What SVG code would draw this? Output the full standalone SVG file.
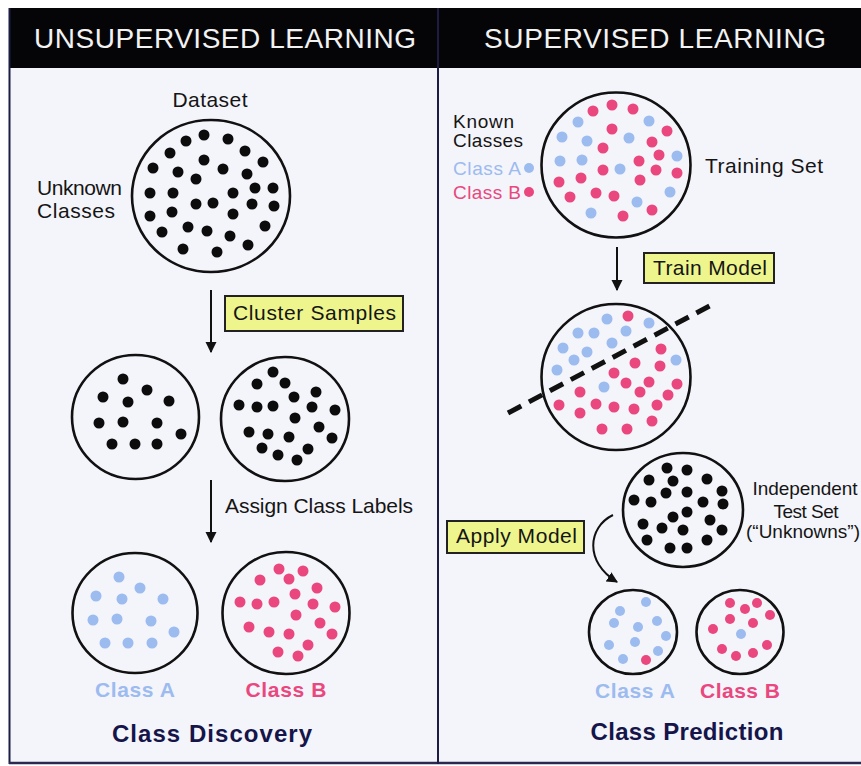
<svg xmlns="http://www.w3.org/2000/svg" width="861" height="766" viewBox="0 0 861 766">
  <style>
    .panel { fill: #f4f4fb; }
    .ring { fill: none; stroke: #111; stroke-width: 2.6; }
    .k { fill: #0c0c0c; }
    .a { fill: #9cbbef; }
    .b { fill: #e9477d; }
    .lbl { font-family: "Liberation Sans", Arial, sans-serif; font-size: 21px; fill: #151515; }
    .sm { font-size: 19px; }
    .head { font-family: "Liberation Sans Narrow", "Liberation Sans", Arial, sans-serif; font-size: 28px; fill: #f2f2f2; }
    .cls { font-family: "Liberation Sans", Arial, sans-serif; font-weight: bold; font-size: 21px; }
    .ta { fill: #9cbbef; }
    .tb { fill: #e9477d; }
    .title { font-family: "Liberation Sans", Arial, sans-serif; font-weight: bold; font-size: 24px; fill: #15154a; }
    .box { fill: #eef58c; stroke: #222; stroke-width: 2; }
    .wire { fill: none; stroke: #111; stroke-width: 2; }
  </style>
  <defs>
    <marker id="head" viewBox="0 0 10 10" refX="9" refY="5" markerWidth="5.5" markerHeight="6.5" orient="auto" markerUnits="strokeWidth">
      <path d="M0,0 L10,5 L0,10 Z" fill="#111"/>
    </marker>
  </defs>

  <!-- page and frame -->
  <rect x="0" y="0" width="861" height="766" fill="#ffffff"/>
  <rect class="panel" x="9" y="8" width="860" height="755"/>
  <rect x="9" y="8" width="860" height="60" fill="#050508"/>
  <line x1="9.5" y1="8" x2="9.5" y2="764" stroke="#1c1c44" stroke-width="2"/>
  <line x1="9" y1="763" x2="861" y2="763" stroke="#2a2a50" stroke-width="2.5"/>
  <line x1="438" y1="8" x2="438" y2="764" stroke="#1c1c44" stroke-width="2"/>

  <g id="header">
    <text class="head" x="34" y="48" textLength="382">UNSUPERVISED LEARNING</text>
    <text class="head" x="484" y="48" textLength="342">SUPERVISED LEARNING</text>
  </g>

  <!-- unsupervised side -->
  <g id="dataset">
    <text class="lbl" x="210" y="107" text-anchor="middle" textLength="75">Dataset</text>
    <text class="lbl" x="37" y="195" textLength="85">Unknown</text>
    <text class="lbl" x="37" y="218" textLength="78">Classes</text>
    <ellipse class="ring" cx="211" cy="196" rx="79" ry="76"/>
    <g class="k">
      <circle cx="204" cy="135" r="5.5"/><circle cx="186" cy="141" r="5.5"/><circle cx="228" cy="139" r="5.5"/>
      <circle cx="170" cy="153" r="5.5"/><circle cx="245" cy="151" r="5.5"/><circle cx="263" cy="162" r="5.5"/>
      <circle cx="204" cy="160" r="5.5"/><circle cx="223" cy="169" r="5.5"/><circle cx="153" cy="168" r="5.5"/>
      <circle cx="178" cy="172" r="5.5"/><circle cx="247" cy="174" r="5.5"/><circle cx="196" cy="179" r="5.5"/>
      <circle cx="255" cy="188" r="5.5"/><circle cx="273" cy="188" r="5.5"/><circle cx="150" cy="193" r="5.5"/>
      <circle cx="173" cy="193" r="5.5"/><circle cx="233" cy="193" r="5.5"/><circle cx="196" cy="204" r="5.5"/>
      <circle cx="213" cy="203" r="5.5"/><circle cx="252" cy="204" r="5.5"/><circle cx="274" cy="206" r="5.5"/>
      <circle cx="150" cy="216" r="5.5"/><circle cx="172" cy="212" r="5.5"/><circle cx="233" cy="214" r="5.5"/>
      <circle cx="188" cy="227" r="5.5"/><circle cx="207" cy="231" r="5.5"/><circle cx="162" cy="232" r="5.5"/>
      <circle cx="230" cy="236" r="5.5"/><circle cx="265" cy="226" r="5.5"/><circle cx="248" cy="245" r="5.5"/>
      <circle cx="183" cy="249" r="5.5"/><circle cx="217" cy="252" r="5.5"/>
    </g>
  </g>

  <g id="cluster-samples">
    <rect class="box" x="225" y="296" width="178" height="35"/>
    <text class="lbl" x="233" y="320" textLength="163">Cluster Samples</text>
  </g>

  <g id="cluster-1">
    <ellipse class="ring" cx="135.5" cy="417" rx="63.5" ry="62"/>
    <g class="k">
      <circle cx="123" cy="379" r="5.5"/><circle cx="103" cy="397" r="5.5"/><circle cx="147" cy="390" r="5.5"/>
      <circle cx="128" cy="402" r="5.5"/><circle cx="169" cy="401" r="5.5"/><circle cx="99" cy="423" r="5.5"/>
      <circle cx="123" cy="422" r="5.5"/><circle cx="157" cy="423" r="5.5"/><circle cx="181" cy="434" r="5.5"/>
      <circle cx="112" cy="444" r="5.5"/><circle cx="135" cy="444" r="5.5"/><circle cx="157" cy="444" r="5.5"/>
    </g>
  </g>

  <g id="cluster-2">
    <ellipse class="ring" cx="285" cy="419" rx="64" ry="62"/>
    <g class="k">
      <circle cx="273" cy="372" r="5.5"/><circle cx="257" cy="384" r="5.5"/><circle cx="285" cy="383" r="5.5"/>
      <circle cx="316" cy="392" r="5.5"/><circle cx="294" cy="397" r="5.5"/><circle cx="239" cy="405" r="5.5"/>
      <circle cx="257" cy="407" r="5.5"/><circle cx="273" cy="406" r="5.5"/><circle cx="312" cy="407" r="5.5"/>
      <circle cx="335" cy="410" r="5.5"/><circle cx="295" cy="418" r="5.5"/><circle cx="319" cy="427" r="5.5"/>
      <circle cx="249" cy="432" r="5.5"/><circle cx="268" cy="434" r="5.5"/><circle cx="289" cy="437" r="5.5"/>
      <circle cx="332" cy="438" r="5.5"/><circle cx="262" cy="448" r="5.5"/><circle cx="278" cy="455" r="5.5"/>
      <circle cx="308" cy="449" r="5.5"/><circle cx="297" cy="460" r="5.5"/>
    </g>
  </g>

  <g id="assign-labels">
    <text class="lbl" x="225" y="513" textLength="188">Assign Class Labels</text>
  </g>

  <g id="class-a">
    <ellipse class="ring" cx="135" cy="613" rx="62.5" ry="60"/>
    <g class="a">
      <circle cx="119" cy="577" r="5.5"/><circle cx="140" cy="588" r="5.5"/><circle cx="96" cy="596" r="5.5"/>
      <circle cx="122" cy="599" r="5.5"/><circle cx="163" cy="599" r="5.5"/><circle cx="93" cy="620" r="5.5"/>
      <circle cx="117" cy="619" r="5.5"/><circle cx="151" cy="621" r="5.5"/><circle cx="174" cy="632" r="5.5"/>
      <circle cx="105" cy="643" r="5.5"/><circle cx="128" cy="643" r="5.5"/><circle cx="152" cy="643" r="5.5"/>
    </g>
    <text class="cls ta" x="135" y="697" text-anchor="middle" textLength="80">Class A</text>
  </g>

  <g id="class-b">
    <ellipse class="ring" cx="286" cy="613" rx="63.5" ry="61"/>
    <g class="b">
      <circle cx="279" cy="569" r="5.5"/><circle cx="303" cy="571" r="5.5"/><circle cx="260" cy="580" r="5.5"/>
      <circle cx="289" cy="579" r="5.5"/><circle cx="317" cy="588" r="5.5"/><circle cx="295" cy="594" r="5.5"/>
      <circle cx="240" cy="602" r="5.5"/><circle cx="257" cy="604" r="5.5"/><circle cx="274" cy="602" r="5.5"/>
      <circle cx="313" cy="604" r="5.5"/><circle cx="335" cy="607" r="5.5"/><circle cx="296" cy="615" r="5.5"/>
      <circle cx="320" cy="623" r="5.5"/><circle cx="249" cy="627" r="5.5"/><circle cx="269" cy="632" r="5.5"/>
      <circle cx="289" cy="634" r="5.5"/><circle cx="332" cy="634" r="5.5"/><circle cx="278" cy="652" r="5.5"/>
      <circle cx="308" cy="645" r="5.5"/><circle cx="298" cy="656" r="5.5"/>
    </g>
    <text class="cls tb" x="286" y="697" text-anchor="middle" textLength="81">Class B</text>
  </g>

  <g id="class-discovery">
    <text class="title" x="212" y="742" text-anchor="middle" textLength="200">Class Discovery</text>
  </g>

  <!-- supervised side -->
  <g id="training-set">
    <text class="lbl sm" x="453" y="128" textLength="61">Known</text>
    <text class="lbl sm" x="453" y="147" textLength="70">Classes</text>
    <text class="lbl sm ta" x="453" y="175" textLength="68">Class A</text>
    <circle class="a" cx="529" cy="168" r="5"/>
    <text class="lbl sm tb" x="453" y="199" textLength="68">Class B</text>
    <circle class="b" cx="529" cy="192" r="5"/>
    <text class="lbl" x="705" y="173" textLength="118">Training Set</text>
    <ellipse class="ring" cx="616" cy="165" rx="74.5" ry="72.5"/>
    <g class="b">
      <circle cx="593" cy="111" r="5.5"/><circle cx="612" cy="105" r="5.5"/><circle cx="633" cy="109" r="5.5"/>
      <circle cx="612" cy="129" r="5.5"/><circle cx="667" cy="131" r="5.5"/><circle cx="652" cy="142" r="5.5"/>
      <circle cx="603" cy="148" r="5.5"/><circle cx="659" cy="155" r="5.5"/><circle cx="639" cy="161" r="5.5"/>
      <circle cx="603" cy="170" r="5.5"/><circle cx="656" cy="170" r="5.5"/><circle cx="677" cy="173" r="5.5"/>
      <circle cx="559" cy="182" r="5.5"/><circle cx="581" cy="178" r="5.5"/><circle cx="640" cy="180" r="5.5"/>
      <circle cx="596" cy="193" r="5.5"/><circle cx="614" cy="196" r="5.5"/><circle cx="570" cy="197" r="5.5"/>
      <circle cx="652" cy="210" r="5.5"/><circle cx="623" cy="216" r="5.5"/>
    </g>
    <g class="a">
      <circle cx="578" cy="122" r="5.5"/><circle cx="649" cy="121" r="5.5"/><circle cx="562" cy="137" r="5.5"/>
      <circle cx="587" cy="141" r="5.5"/><circle cx="629" cy="138" r="5.5"/><circle cx="677" cy="156" r="5.5"/>
      <circle cx="560" cy="161" r="5.5"/><circle cx="582" cy="160" r="5.5"/><circle cx="620" cy="169" r="5.5"/>
      <circle cx="670" cy="192" r="5.5"/><circle cx="637" cy="202" r="5.5"/><circle cx="591" cy="213" r="5.5"/>
    </g>
  </g>

  <g id="train-model">
    <rect class="box" x="644" y="253" width="130" height="30"/>
    <text class="lbl" x="653" y="275" textLength="114">Train Model</text>
  </g>

  <g id="trained-model">
    <ellipse class="ring" cx="616" cy="377" rx="74.5" ry="73"/>
    <g class="a">
      <circle cx="607" cy="319" r="5.5"/><circle cx="649" cy="323" r="5.5"/><circle cx="578" cy="333" r="5.5"/>
      <circle cx="594" cy="333" r="5.5"/><circle cx="626" cy="331" r="5.5"/><circle cx="612" cy="343" r="5.5"/>
      <circle cx="563" cy="348" r="5.5"/><circle cx="587" cy="352" r="5.5"/><circle cx="574" cy="360" r="5.5"/>
      <circle cx="676" cy="360" r="5.5"/><circle cx="557" cy="370" r="5.5"/><circle cx="604" cy="387" r="5.5"/>
    </g>
    <g class="b">
      <circle cx="628" cy="316" r="5.5"/><circle cx="661" cy="349" r="5.5"/><circle cx="635" cy="363" r="5.5"/>
      <circle cx="660" cy="366" r="5.5"/><circle cx="614" cy="373" r="5.5"/><circle cx="626" cy="383" r="5.5"/>
      <circle cx="649" cy="382" r="5.5"/><circle cx="677" cy="384" r="5.5"/><circle cx="580" cy="392" r="5.5"/>
      <circle cx="640" cy="392" r="5.5"/><circle cx="668" cy="395" r="5.5"/><circle cx="559" cy="405" r="5.5"/>
      <circle cx="596" cy="404" r="5.5"/><circle cx="614" cy="407" r="5.5"/><circle cx="634" cy="409" r="5.5"/>
      <circle cx="657" cy="405" r="5.5"/><circle cx="580" cy="413" r="5.5"/><circle cx="652" cy="421" r="5.5"/>
      <circle cx="602" cy="429" r="5.5"/><circle cx="627" cy="429" r="5.5"/>
    </g>
    <!-- separating boundary: 10 dashes, 9 gaps over ~228px -->
    <line x1="508" y1="413" x2="709.5" y2="306" stroke="#111" stroke-width="5" stroke-dasharray="15 8.7"/>
  </g>

  <g id="test-set">
    <ellipse class="ring" cx="683" cy="510" rx="60" ry="57"/>
    <g class="k">
      <circle cx="667" cy="468" r="5.5"/><circle cx="687" cy="470" r="5.5"/><circle cx="649" cy="480" r="5.5"/>
      <circle cx="673" cy="481" r="5.5"/><circle cx="707" cy="479" r="5.5"/><circle cx="666" cy="493" r="5.5"/>
      <circle cx="687" cy="492" r="5.5"/><circle cx="722" cy="491" r="5.5"/><circle cx="634" cy="500" r="5.5"/>
      <circle cx="651" cy="502" r="5.5"/><circle cx="703" cy="502" r="5.5"/><circle cx="723" cy="504" r="5.5"/>
      <circle cx="687" cy="512" r="5.5"/><circle cx="673" cy="517" r="5.5"/><circle cx="643" cy="524" r="5.5"/>
      <circle cx="662" cy="528" r="5.5"/><circle cx="683" cy="530" r="5.5"/><circle cx="710" cy="520" r="5.5"/>
      <circle cx="722" cy="530" r="5.5"/><circle cx="647" cy="540" r="5.5"/><circle cx="670" cy="548" r="5.5"/>
      <circle cx="687" cy="548" r="5.5"/><circle cx="707" cy="540" r="5.5"/>
    </g>
    <text class="lbl sm" x="805" y="495" text-anchor="middle" textLength="105">Independent</text>
    <text class="lbl sm" x="806" y="518" text-anchor="middle" textLength="65">Test Set</text>
    <text class="lbl sm" x="803" y="538" text-anchor="middle" textLength="114">(“Unknowns”)</text>
  </g>

  <g id="apply-model">
    <rect class="box" x="447" y="521" width="137" height="32"/>
    <text class="lbl" x="456" y="543" textLength="121">Apply Model</text>
  </g>

  <g id="predicted-a">
    <ellipse class="ring" cx="633" cy="632" rx="44" ry="42"/>
    <g class="a">
      <circle cx="646" cy="602" r="5"/><circle cx="620" cy="611" r="5"/><circle cx="614" cy="623" r="5"/>
      <circle cx="657" cy="621" r="5"/><circle cx="638" cy="627" r="5"/><circle cx="666" cy="636" r="5"/>
      <circle cx="609" cy="645" r="5"/><circle cx="635" cy="642" r="5"/><circle cx="658" cy="651" r="5"/>
      <circle cx="623" cy="659" r="5"/>
    </g>
    <circle class="b" cx="646" cy="660" r="5"/>
    <text class="cls ta" x="635" y="698" text-anchor="middle" textLength="80">Class A</text>
  </g>

  <g id="predicted-b">
    <ellipse class="ring" cx="740" cy="632" rx="43.5" ry="42"/>
    <g class="b">
      <circle cx="730" cy="603" r="5"/><circle cx="745" cy="609" r="5"/><circle cx="757" cy="603" r="5"/>
      <circle cx="770" cy="615" r="5"/><circle cx="730" cy="619" r="5"/><circle cx="753" cy="623" r="5"/>
      <circle cx="713" cy="629" r="5"/><circle cx="767" cy="645" r="5"/><circle cx="722" cy="649" r="5"/>
      <circle cx="736" cy="656" r="5"/><circle cx="753" cy="653" r="5"/>
    </g>
    <circle class="a" cx="741" cy="634" r="5"/>
    <text class="cls tb" x="740" y="698" text-anchor="middle" textLength="80">Class B</text>
  </g>

  <g id="class-prediction">
    <text class="title" x="687" y="740" text-anchor="middle" textLength="193">Class Prediction</text>
  </g>

  <!-- connectors -->
  <g id="connectors">
    <line class="wire" x1="211" y1="290" x2="211" y2="352" marker-end="url(#head)"/>
    <line class="wire" x1="211" y1="480" x2="211" y2="542" marker-end="url(#head)"/>
    <line class="wire" x1="617" y1="247" x2="617" y2="290" marker-end="url(#head)"/>
    <path class="wire" d="M613,515 C588,527 584,562 617,582" marker-end="url(#head)"/>
  </g>
</svg>
